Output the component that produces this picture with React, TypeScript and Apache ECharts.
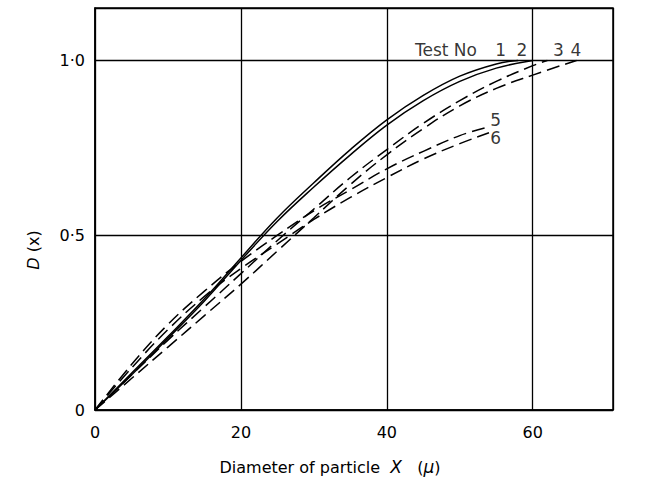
import React, { useEffect, useRef } from "react";
import * as echarts from "echarts";

// Particle diameter (μ) vs D(x)
const test1: number[][] = [[0, 0], [5, 0.105], [10, 0.21], [15, 0.318], [20, 0.435], [25, 0.55], [30, 0.65], [35, 0.745], [40, 0.83], [45, 0.9], [50, 0.955], [55, 0.99], [58, 1.0]];
const test2: number[][] = [[0, 0], [5, 0.1], [10, 0.205], [15, 0.312], [20, 0.428], [25, 0.54], [30, 0.638], [35, 0.73], [40, 0.815], [45, 0.885], [50, 0.94], [55, 0.978], [60, 1.0]];
const test3: number[][] = [[0, 0], [5, 0.1], [10, 0.2], [15, 0.295], [20, 0.39], [25, 0.485], [30, 0.575], [35, 0.665], [40, 0.745], [45, 0.82], [50, 0.885], [55, 0.94], [60, 0.985], [62, 1.0]];
const test4: number[][] = [[0, 0], [5, 0.09], [10, 0.18], [15, 0.27], [20, 0.36], [25, 0.455], [30, 0.55], [35, 0.645], [40, 0.73], [45, 0.805], [50, 0.87], [55, 0.92], [60, 0.958], [66, 1.0]];
const test5: number[][] = [[0, 0], [5, 0.13], [10, 0.245], [15, 0.34], [20, 0.425], [25, 0.5], [30, 0.57], [35, 0.63], [40, 0.69], [45, 0.74], [50, 0.785], [54, 0.81]];
const test6: number[][] = [[0, 0], [5, 0.12], [10, 0.23], [15, 0.325], [20, 0.405], [25, 0.475], [30, 0.545], [35, 0.608], [40, 0.665], [45, 0.718], [50, 0.762], [54, 0.793]];

const xTicks = [0, 20, 40, 60];
const yTickLabels: Record<string, string> = { "0": "0", "0.5": "0·5", "1": "1·0" };

// annotation texts (data units)
const annotations: { value: number[]; text: string }[] = [
  { value: [48.1, 1.03], text: "Test No" },
  { value: [55.6, 1.03], text: "1" },
  { value: [58.5, 1.03], text: "2" },
  { value: [63.5, 1.03], text: "3" },
  { value: [65.9, 1.03], text: "4" },
  { value: [54.9, 0.831], text: "5" },
  { value: [54.9, 0.779], text: "6" },
];

const FONT = "'DejaVu Sans', 'Liberation Sans', sans-serif";

export default function App() {
  const ref = useRef<HTMLDivElement>(null);
  useEffect(() => {
    if (!ref.current) return;
    const chart = echarts.init(ref.current, undefined, { renderer: "svg" });
    const lineSeries = (name: string, data: number[][], dashed: boolean) => ({
      name,
      type: "line",
      data,
      smooth: 0.4,
      symbol: "none",
      lineStyle: { color: "#000", width: 1.5, type: dashed ? [13, 6] : "solid" },
      z: 3,
    });
    chart.setOption({
      animation: false,
      backgroundColor: "#fff",
      grid: { left: 95, right: 33, top: 8, bottom: 71, show: true, borderColor: "#000", borderWidth: 1.5 },
      xAxis: {
        type: "value",
        min: 0,
        max: 71,
        interval: 20,
        axisLine: { show: true, lineStyle: { color: "#000", width: 1.5 } },
        axisTick: { show: false },
        splitLine: { show: true, lineStyle: { color: "#000", width: 1.3 } },
        axisLabel: {
          color: "#000",
          fontSize: 16,
          fontFamily: FONT,
          margin: 14,
          showMaxLabel: false,
          formatter: (v: number) => (xTicks.includes(v) ? String(v) : ""),
        },
      },
      yAxis: {
        type: "value",
        min: 0,
        max: 1.15,
        interval: 0.5,
        axisLine: { show: true, lineStyle: { color: "#000", width: 1.5 } },
        axisTick: { show: false },
        splitLine: { show: true, lineStyle: { color: "#000", width: 1.3 } },
        axisLabel: {
          color: "#000",
          fontSize: 16,
          fontFamily: FONT,
          margin: 10,
          showMaxLabel: false,
          formatter: (v: number) => yTickLabels[String(v)] ?? "",
        },
      },
      graphic: [
        {
          type: "text",
          x: 330,
          y: 467,
          style: {
            text: "Diameter of particle  {i|X}   ({i|μ})",
            fill: "#000",
            font: `16px ${FONT}`,
            align: "center",
            verticalAlign: "middle",
            rich: { i: { fontStyle: "italic", fontSize: 17, fontFamily: FONT } },
          },
        },
        {
          type: "text",
          x: 33,
          y: 250,
          rotation: Math.PI / 2,
          style: {
            text: "{i|D} (x)",
            fill: "#000",
            font: `16px ${FONT}`,
            align: "center",
            verticalAlign: "middle",
            rich: { i: { fontStyle: "italic", fontSize: 16, fontFamily: FONT } },
          },
        },
      ],
      series: [
        lineSeries("Test 1", test1, false),
        lineSeries("Test 2", test2, false),
        lineSeries("Test 3", test3, true),
        lineSeries("Test 4", test4, true),
        lineSeries("Test 5", test5, true),
        lineSeries("Test 6", test6, true),
        {
          type: "scatter",
          data: annotations.map((a) => ({ value: a.value, name: a.text })),
          symbolSize: 0,
          silent: true,
          label: {
            show: true,
            position: "inside",
            formatter: (p: any) => p.name,
            color: "#000",
            fontSize: 17,
            fontFamily: FONT,
          },
          z: 5,
        },
      ],
    });
    return () => chart.dispose();
  }, []);
  return <div ref={ref} style={{ position: "fixed", left: 0, top: 0, width: 646, height: 481 }} />;
}
